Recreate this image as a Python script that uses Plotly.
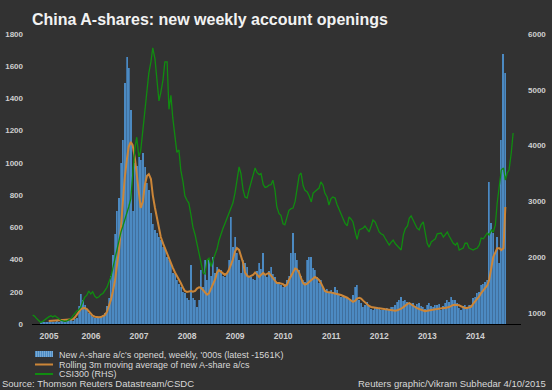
import pandas as pd
import plotly.graph_objects as go

# ---------------- data (semi-monthly samples) ----------------
bar_start = "2005-06-15"
new_accounts = [  # '000s, weekly new A-share accounts (sampled twice a month)
    8, 10, 12, 9, 14, 11, 15, 12, 18, 14, 16, 20, 15, 22, 18, 25, 20, 28,
    40, 110, 186, 150, 120, 90, 70, 55, 45, 38, 42, 40, 48, 55, 70, 110, 160,
    300, 428, 560, 700, 780, 1000, 1142, 1496, 1657, 1589, 1328, 700, 1000, 980,
    1037, 1018, 1061, 975, 875, 832, 689, 620, 583, 565, 540, 521, 478, 470, 416,
    400, 379, 317, 310, 273, 250, 230, 200, 192, 160, 149, 366, 160, 149, 106, 150,
    335, 230, 397, 273, 397, 300, 416, 317, 354, 335, 335, 300, 292, 310, 400,
    664, 478, 540, 441, 400, 317, 397, 380, 354, 300, 292, 280, 273, 330, 379,
    340, 441, 310, 292, 330, 354, 310, 292, 254, 260, 240, 230, 250, 273, 300,
    441, 565, 441, 400, 335, 300, 273, 260, 397, 416, 416, 350, 335, 290, 254,
    273, 230, 211, 220, 192, 211, 200, 230, 210, 180, 168, 175, 168, 160, 155,
    149, 180, 230, 242, 150, 130, 106, 120, 137, 110, 95, 87, 100, 106, 95,
    87, 87, 95, 99, 90, 106, 106, 120, 137, 150, 168, 140, 149, 137, 130,
    120, 130, 110, 125, 130, 110, 106, 95, 120, 130, 110, 106, 115, 120, 125,
    87, 110, 130, 150, 137, 168, 150, 149, 130, 100, 87, 110, 120, 106, 118,
    118, 160, 168, 192, 200, 242, 250, 260, 273, 881, 627, 565, 441, 540, 379,
    1142, 1676, 1561,
]

avg_start = "2005-08-15"
rolling_avg = [  # '000s, rolling 3m moving average
    18, 19, 20, 20, 21, 21, 22, 22, 23, 23, 24, 25, 30, 40, 55, 75, 90, 98, 99, 92,
    78, 65, 52, 45, 42, 42, 43, 48, 55, 75, 106, 150, 200, 270, 360, 460, 600, 750, 900, 1020,
    1100, 1130, 1110, 1030, 920, 800, 720, 760, 860, 920, 930, 900, 800, 720, 660, 600, 540, 500, 470, 445,
    410, 379, 350, 320, 300, 280, 254, 225, 205, 199, 200, 205, 200, 205, 220, 228, 225, 211, 195, 182,
    190, 223, 242, 280, 320, 335, 325, 317, 305, 315, 335, 370, 400, 450, 472, 460, 420, 379, 320, 300,
    292, 300, 304, 320, 310, 292, 305, 317, 305, 310, 317, 300, 285, 262, 254, 254, 250, 248, 235, 245,
    273, 300, 323, 345, 340, 317, 285, 254, 244, 250, 261, 275, 285, 292, 285, 273, 255, 230, 205, 199,
    199, 196, 192, 190, 187, 183, 180, 175, 170, 163, 155, 145, 137, 145, 158, 162, 158, 145, 133, 122,
    112, 106, 103, 101, 99, 98, 96, 94, 92, 90, 88, 87, 85, 82, 85, 90, 95, 105, 115, 125,
    130, 122, 110, 104, 98, 93, 88, 82, 80, 82, 85, 87, 90, 92, 93, 96, 99, 99, 99, 100,
    105, 112, 118, 119, 118, 116, 110, 103, 99, 100, 103, 108, 125, 140, 155, 172, 192, 208, 220, 240,
    273, 354, 416, 445, 470, 470, 459, 470, 726,
]

csi_start = "2005-04-15"
csi300 = [  # CSI300 index level (RHS)
    964, 940, 900, 870, 830, 850, 880, 900, 930, 950, 930, 950, 920, 890, 870, 860, 850, 860, 880, 900,
    950, 1000, 1030, 1060, 1100, 1200, 1280, 1320, 1394, 1340, 1380, 1300, 1270, 1290, 1330, 1350, 1400, 1460, 1550, 1650,
    1800, 1980, 2150, 2350, 2450, 2550, 2650, 2800, 2900, 3050, 3500, 3950, 4150, 3800, 3900, 4280, 4650, 5000, 5300, 5500,
    5750, 5550, 5250, 4800, 4950, 5180, 5500, 5500, 4650, 4900, 4500, 4100, 3880, 3920, 3560, 3350, 3100, 3020, 2970, 2750,
    2540, 2400, 2250, 2050, 1900, 1720, 1700, 1950, 1980, 1830, 1950, 2060, 2150, 2300, 2420, 2520, 2600, 2700, 2780, 2870,
    2970, 3150, 3400, 3617, 3500, 3200, 3080, 3060, 3200, 3350, 3500, 3600, 3520, 3480, 3500, 3300, 3250, 3260, 3290, 3300,
    3380, 3200, 2900, 2780, 2750, 2600, 2580, 2720, 2840, 2870, 2880, 3000, 3200, 3470, 3509, 3280, 3200, 3170, 3100, 2990,
    3150, 3180, 3220, 3240, 3350, 3290, 3150, 3080, 2936, 3050, 3079, 3060, 2950, 2850, 2792, 2700, 2610, 2560, 2721, 2680,
    2631, 2450, 2320, 2488, 2500, 2523, 2560, 2500, 2452, 2560, 2667, 2630, 2560, 2452, 2420, 2398, 2340, 2280, 2219, 2270,
    2308, 2240, 2200, 2160, 2129, 2400, 2510, 2560, 2700, 2740, 2667, 2570, 2520, 2488, 2580, 2631, 2450, 2250, 2180, 2273,
    2300, 2330, 2420, 2434, 2434, 2360, 2400, 2452, 2380, 2308, 2250, 2219, 2260, 2129, 2150, 2165, 2250, 2250, 2165, 2140,
    2129, 2150, 2160, 2219, 2344, 2330, 2380, 2434, 2398, 2488, 2450, 2577, 2971, 3330, 3563, 3599, 3384, 3509, 3563, 3867,
    4226,
]

year_labels = ["2005", "2006", "2007", "2008", "2009", "2010", "2011", "2012", "2013", "2014"]
year_tick_dates = ["2005-08-17", "2006-07-02", "2007-07-02", "2008-07-02", "2009-07-02",
                   "2010-07-02", "2011-07-02", "2012-07-02", "2013-07-02", "2014-07-02"]
left_ticks = list(range(0, 1801, 200))
right_ticks = [1000, 2000, 3000, 4000, 5000, 6000]

legend_labels = ["New A-share a/c's opened, weekly, '000s (latest -1561K)",
                 "Rolling 3m moving average of new A-share a/cs",
                 "CSI300 (RHS)"]

# ---------------- styling ----------------
BG = "#323232"
BLUE = "rgb(76,138,194)"
STRIPE = "rgba(40,62,86,0.75)"
ORANGE = "rgb(204,134,56)"
GREEN = "rgb(16,140,16)"
TXT = "#d8d8d8"
SANS = "Liberation Sans, Arial, sans-serif"

W, H = 552, 390
ML, MR, MT, MB = 32, 31, 34, 66

bar_x = pd.date_range(bar_start, periods=len(new_accounts), freq="SMS")
avg_x = pd.date_range(avg_start, periods=len(rolling_avg), freq="SMS")
csi_x = pd.date_range(csi_start, periods=len(csi300), freq="SMS")

fig = go.Figure()
fig.add_trace(go.Bar(x=bar_x, y=new_accounts, name=legend_labels[0],
                     marker=dict(color=BLUE, line=dict(width=0),
                                 pattern=dict(shape="|", fgcolor=STRIPE, bgcolor=BLUE,
                                              size=3, solidity=0.3, fillmode="overlay")),
                     width=9 * 86400000, showlegend=False))
fig.add_trace(go.Scatter(x=avg_x, y=rolling_avg, name=legend_labels[1], mode="lines",
                         line=dict(color=ORANGE, width=2), showlegend=False))
fig.add_trace(go.Scatter(x=csi_x, y=csi300, name=legend_labels[2], mode="lines",
                         line=dict(color=GREEN, width=1.3), yaxis="y2", showlegend=False))

pw = W - ML - MR
ph = H - MT - MB


def px_x(p):
    return (p - ML) / pw


def px_y(p):
    return (H - MB - p) / ph


shapes = [
    dict(type="rect", xref="paper", yref="paper", x0=px_x(35), x1=px_x(53), y0=px_y(357), y1=px_y(351),
         fillcolor=BLUE, line=dict(width=0)),
    dict(type="line", xref="paper", yref="paper", x0=px_x(35), x1=px_x(53), y0=px_y(364.5), y1=px_y(364.5),
         line=dict(color=ORANGE, width=2)),
    dict(type="line", xref="paper", yref="paper", x0=px_x(35), x1=px_x(53), y0=px_y(374), y1=px_y(374),
         line=dict(color=GREEN, width=2)),
]
for k in range(9):
    shapes.append(dict(type="line", xref="paper", yref="paper",
                       x0=px_x(36.5 + 2 * k), x1=px_x(36.5 + 2 * k), y0=px_y(357), y1=px_y(351),
                       line=dict(color="rgb(150,190,225)", width=0.6)))

annotations = []
for lbl, yy in zip(legend_labels, [354.5, 364.5, 374]):
    annotations.append(dict(text=lbl, xref="paper", yref="paper", x=px_x(57), y=px_y(yy),
                            xanchor="left", yanchor="middle", showarrow=False,
                            font=dict(family=SANS, size=9, color=TXT)))
annotations.append(dict(text="Source: Thomson Reuters Datastream/CSDC", xref="paper", yref="paper",
                        x=px_x(0), y=px_y(383), xanchor="left", yanchor="middle", showarrow=False,
                        font=dict(family=SANS, size=9.5, color=TXT)))
annotations.append(dict(text="Reuters graphic/Vikram Subhedar 4/10/2015", xref="paper", yref="paper",
                        x=px_x(548), y=px_y(383), xanchor="right", yanchor="middle", showarrow=False,
                        font=dict(family=SANS, size=9.5, color=TXT)))

tickfont = dict(family=SANS, size=8, color="#cfcfcf", weight="bold")

fig.update_layout(
    width=W, height=H,
    margin=dict(l=ML, r=MR, t=MT, b=MB, pad=0, autoexpand=False),
    paper_bgcolor=BG, plot_bgcolor=BG,
    title=dict(text="China A-shares: new weekly account openings",
               x=32 / W, xanchor="left", xref="container",
               y=1 - 19 / H, yanchor="middle", yref="container",
               font=dict(family=SANS, size=16, color="#f2f2f2", weight="bold")),
    xaxis=dict(type="date", range=["2005-04-10", "2015-06-14"], automargin=False,
               tickmode="array", tickvals=year_tick_dates, ticktext=year_labels,
               tickfont=dict(family=SANS, size=8.5, color="#cfcfcf", weight="bold"),
               showgrid=False, zeroline=False, showline=True, linecolor="#000000", linewidth=1,
               ticks="", ticklabelstandoff=4),
    yaxis=dict(range=[0, 1800], tickmode="array", tickvals=left_ticks, automargin=False,
               tickfont=tickfont, showgrid=False, zeroline=False, showline=False,
               ticks="", ticklabelstandoff=8),
    yaxis2=dict(range=[803, 6000], overlaying="y", side="right", tickmode="array", tickvals=right_ticks,
                automargin=False,
                tickfont=tickfont, showgrid=False, zeroline=False, showline=False,
                ticks="", ticklabelstandoff=6),
    bargap=0,
    shapes=shapes,
    annotations=annotations,
    showlegend=False,
)

fig.write_html(
    "out.html",
    config={"displayModeBar": False},
    post_script="document.body.style.margin='0';document.body.style.background='" + BG + "';",
)
